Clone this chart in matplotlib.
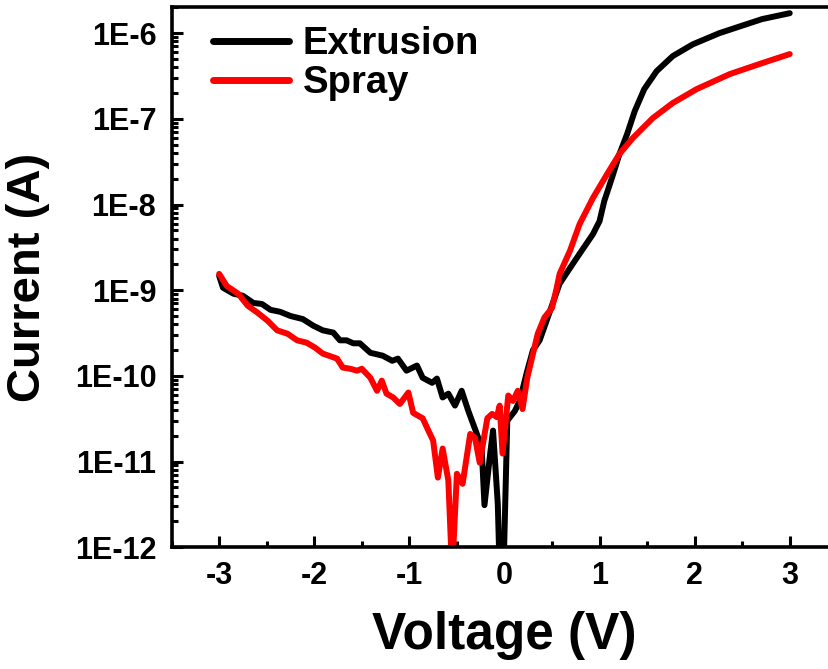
import numpy as np
import matplotlib.pyplot as plt
from matplotlib.ticker import FixedLocator, LogLocator, FuncFormatter, MultipleLocator

plt.rcParams['font.family'] = ['Liberation Sans', 'DejaVu Sans']
plt.rcParams['font.weight'] = 'bold'
plt.rcParams['axes.unicode_minus'] = False

# Extrusion sample (black)
v_ext = [-3.00, -2.96, -2.85, -2.75, -2.64, -2.55, -2.46, -2.36, -2.25, -2.12,
         -2.01, -1.91, -1.80, -1.73, -1.66, -1.59, -1.52, -1.41, -1.28, -1.18,
         -1.12, -1.03, -0.92, -0.86, -0.76, -0.71, -0.65, -0.59, -0.52, -0.45,
         -0.38, -0.29, -0.24, -0.21, -0.15, -0.12, -0.07, -0.05, -0.01, 0.03,
         0.11, 0.16, 0.24, 0.30, 0.37, 0.48, 0.58, 0.69, 0.79, 0.93,
         1.00, 1.05, 1.13, 1.21, 1.29, 1.37, 1.47, 1.60, 1.77, 1.98,
         2.26, 2.71, 3.00]
i_ext = [1.47e-9, 1.07e-9, 9.1e-10, 8.6e-10, 7.1e-10, 6.9e-10, 5.9e-10, 5.6e-10, 5.0e-10, 4.6e-10,
         3.85e-10, 3.4e-10, 3.2e-10, 2.6e-10, 2.6e-10, 2.4e-10, 2.4e-10, 1.86e-10, 1.72e-10, 1.5e-10,
         1.59e-10, 1.15e-10, 1.32e-10, 9.5e-11, 8.3e-11, 9.3e-11, 5.6e-11, 6.2e-11, 4.5e-11, 6.7e-11,
         3.9e-11, 2.1e-11, 1.46e-11, 3.1e-12, 1.24e-11, 2.3e-11, 3.2e-12, 5e-13, 5e-13, 3.0e-11,
         3.9e-11, 5.1e-11, 1.15e-10, 2.0e-10, 2.6e-10, 5.75e-10, 1.19e-9, 1.82e-9, 2.66e-9, 4.5e-9,
         6.4e-9, 1.1e-8, 2.04e-8, 3.9e-8, 6.65e-8, 1.23e-7, 2.22e-7, 3.6e-7, 5.4e-7, 7.4e-7,
         1.0e-6, 1.46e-6, 1.71e-6]

# Spray sample (red)
v_spr = [-3.00, -2.92, -2.80, -2.70, -2.60, -2.49, -2.39, -2.28, -2.18, -2.08,
         -1.99, -1.91, -1.76, -1.70, -1.62, -1.55, -1.50, -1.41, -1.34, -1.29,
         -1.24, -1.17, -1.10, -1.01, -0.96, -0.86, -0.80, -0.75, -0.70, -0.65,
         -0.59, -0.55, -0.50, -0.44, -0.36, -0.31, -0.26, -0.18, -0.13, -0.08,
         -0.05, -0.02, 0.04, 0.09, 0.14, 0.19, 0.24, 0.29, 0.35, 0.42,
         0.50, 0.55, 0.58, 0.69, 0.79, 0.93, 1.08, 1.21, 1.35, 1.56,
         1.77, 2.02, 2.37, 2.71, 3.00]
i_spr = [1.55e-9, 1.12e-9, 9.1e-10, 6.6e-10, 5.5e-10, 4.4e-10, 3.4e-10, 3.1e-10, 2.6e-10, 2.44e-10,
         2.13e-10, 1.82e-10, 1.59e-10, 1.25e-10, 1.21e-10, 1.15e-10, 1.21e-10, 9.5e-11, 6.7e-11, 8.8e-11,
         6.2e-11, 5.6e-11, 4.7e-11, 6.4e-11, 3.7e-11, 3.2e-11, 2.3e-11, 1.76e-11, 6.5e-12, 1.42e-11,
         6.0e-12, 5e-13, 7.2e-12, 5.5e-12, 2.1e-11, 1.9e-11, 9.7e-12, 3.2e-11, 3.6e-11, 3.3e-11,
         4.5e-11, 1.24e-11, 5.9e-11, 5.1e-11, 6.7e-11, 4.1e-11, 9.5e-11, 1.63e-10, 3.1e-10, 4.8e-10,
         6.2e-10, 1.07e-9, 1.55e-9, 2.9e-9, 5.9e-9, 1.19e-8, 2.27e-8, 3.9e-8, 5.97e-8, 1.02e-7,
         1.53e-7, 2.22e-7, 3.33e-7, 4.47e-7, 5.7e-7]

y_ticks = [1e-12, 1e-11, 1e-10, 1e-9, 1e-8, 1e-7, 1e-6]
x_ticks = [-3, -2, -1, 0, 1, 2, 3]

fig = plt.figure(figsize=(8.29, 6.69), dpi=100)
ax = fig.add_axes([0.207, 0.182, 0.803, 0.807])

ax.plot(v_ext, i_ext, color='black', lw=4.3, label='Extrusion',
        solid_joinstyle='round', solid_capstyle='round')
ax.plot(v_spr, i_spr, color='red', lw=4.3, label='Spray',
        solid_joinstyle='round', solid_capstyle='round')

ax.set_yscale('log')
ax.set_xlim(-3.5, 3.5)
ax.set_ylim(1e-12, 2e-6)

ax.xaxis.set_major_locator(FixedLocator(x_ticks))
ax.xaxis.set_minor_locator(MultipleLocator(0.5))
ax.yaxis.set_major_locator(FixedLocator(y_ticks))
ax.yaxis.set_minor_locator(LogLocator(base=10, subs=np.arange(2, 10)))
ax.yaxis.set_major_formatter(FuncFormatter(lambda v, p: '1E%d' % round(np.log10(v))))
ax.yaxis.set_minor_formatter(FuncFormatter(lambda v, p: ''))

for s in ax.spines.values():
    s.set_linewidth(2.6)

ax.tick_params(which='both', direction='in', width=2.2, top=False, right=False)
ax.tick_params(which='major', length=8, labelsize=22)
ax.tick_params(axis='y', which='major', pad=11)
ax.tick_params(axis='x', which='major', pad=10)
ax.tick_params(which='minor', length=4)

ax.set_xlabel('Voltage (V)', fontsize=37, fontweight='bold', labelpad=14)
ax.set_ylabel('Current (A)', fontsize=34, fontweight='bold', labelpad=18)

leg = ax.legend(loc='upper left', bbox_to_anchor=(0.062, 0.965), frameon=False,
                fontsize=27.5, handlelength=2.0, handletextpad=0.35, labelspacing=0.08,
                borderaxespad=0, borderpad=0)
for h in leg.get_lines():
    h.set_linewidth(5)

fig.savefig('out.png', dpi=100)
